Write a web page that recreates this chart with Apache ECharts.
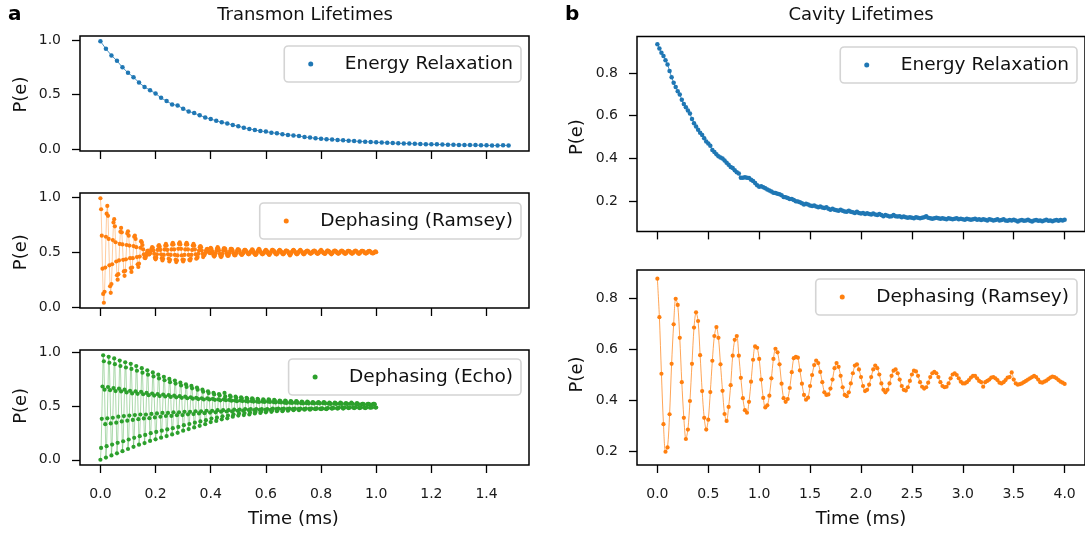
<!DOCTYPE html>
<html><head><meta charset="utf-8">
<script src="https://cdn.jsdelivr.net/npm/echarts@6.0.0/dist/echarts.min.js"></script>
<style>html,body{margin:0;padding:0;background:#fff}#c{width:1085px;height:533px}</style>
</head><body><div id="c"></div><script>
// ---------- data ----------
const transmonT1Dt = 0.02;
const transmonT1 = [0.99,0.92,0.86,0.81,0.75,0.70,0.66,0.61,0.57,0.54,0.51,0.47,0.44,0.41,0.40,0.37,0.345,0.33,0.31,0.29,0.275,0.26,0.245,0.235,0.22,0.21,0.195,0.185,0.175,0.165,0.16,0.15,0.145,0.135,0.13,0.125,0.12,0.11,0.105,0.10,0.095,0.09,0.088,0.083,0.08,0.077,0.073,0.07,0.067,0.065,0.062,0.06,0.057,0.055,0.053,0.051,0.05,0.048,0.046,0.045,0.044,0.043,0.041,0.04,0.039,0.038,0.037,0.036,0.036,0.035,0.034,0.033,0.032,0.034,0.033];

const transmonRamseyDt = 0.0025;
const transmonRamsey = [
0.99,0.89,0.65,0.35,0.12,0.04,0.14,0.36,0.64,0.85,
0.92,0.83,0.62,0.38,0.19,0.13,0.21,0.39,0.61,0.77,
0.80,0.735,0.59,0.415,0.29,0.25,0.30,0.425,0.575,0.685,
0.72,0.68,0.57,0.43,0.325,0.285,0.33,0.435,0.565,0.67,
0.69,0.65,0.56,0.445,0.355,0.32,0.36,0.445,0.555,0.64,
0.65,0.62,0.545,0.455,0.39,0.365,0.395,0.46,0.54,0.60,
0.59,0.565,0.525,0.48,0.45,0.445,0.46,0.49,0.51,0.515,
0.48,0.48,0.49,0.51,0.53,0.545,0.54,0.515,0.485,0.45,
0.435,0.45,0.48,0.52,0.555,0.565,0.55,0.52,0.48,0.445,
0.425,0.44,0.475,0.525,0.56,0.575,0.56,0.52,0.48,0.44,
0.415,0.43,0.475,0.525,0.57,0.585,0.57,0.525,0.475,0.43,
0.41,0.425,0.47,0.53,0.575,0.59,0.57,0.53,0.47,0.43,
0.415,0.43,0.475,0.525,0.57,0.585,0.57,0.525,0.475,0.43,
0.425,0.44,0.475,0.52,0.56,0.575,0.56,0.525,0.48,0.44,
0.445,0.455,0.485,0.515,0.545,0.555,0.545,0.515,0.485,0.455,
0.47,0.475,0.49,0.51,0.525,0.53,0.52,0.505,0.495,0.49,
0.54,0.53,0.51,0.49,0.47,0.46,0.47,0.49,0.51,0.53,
0.545,0.535,0.515,0.485,0.465,0.455,0.465,0.485,0.515,0.535,
0.535,0.53,0.51,0.49,0.47,0.465,0.47,0.49,0.51,0.53,
0.53,0.525,0.51,0.49,0.475,0.47,0.475,0.49,0.51,0.525,
0.525,0.52,0.51,0.49,0.48,0.475,0.48,0.49,0.51,0.52,
0.52,0.515,0.505,0.495,0.485,0.48,0.485,0.495,0.505,0.515,
0.525,0.52,0.505,0.49,0.48,0.475,0.48,0.495,0.51,0.52,
0.53,0.52,0.505,0.495,0.485,0.48,0.485,0.49,0.505,0.515,
0.52,0.515,0.505,0.49,0.48,0.475,0.485,0.495,0.51,0.52,
0.52,0.515,0.51,0.495,0.485,0.48,0.48,0.49,0.505,0.515,
0.52,0.515,0.505,0.495,0.485,0.48,0.485,0.495,0.505,0.515,
0.515,0.51,0.505,0.49,0.48,0.47,0.48,0.495,0.505,0.515,
0.52,0.515,0.505,0.495,0.485,0.48,0.485,0.495,0.505,0.515,
0.52,0.51,0.505,0.495,0.485,0.48,0.485,0.495,0.505,0.51,
0.515,0.51,0.505,0.495,0.49,0.485,0.49,0.495,0.505,0.51,
0.515,0.512,0.505,0.495,0.488,0.485,0.488,0.495,0.505,0.512,
0.52,0.51,0.505,0.495,0.49,0.485,0.485,0.495,0.505,0.515,
0.515,0.51,0.505,0.495,0.488,0.48,0.488,0.495,0.505,0.512,
0.515,0.512,0.505,0.495,0.49,0.485,0.49,0.495,0.505,0.51,
0.515,0.51,0.505,0.495,0.488,0.485,0.488,0.495,0.505,0.512,
0.512,0.51,0.505,0.495,0.49,0.485,0.49,0.495,0.505,0.51,
0.515,0.51,0.503,0.495,0.488,0.485,0.488,0.497,0.505,0.512,
0.512,0.51,0.505,0.495,0.49,0.487,0.49,0.495,0.505,0.51,
0.512,0.508,0.503,0.495,0.49,0.488,0.49,0.495,0.503,0.508,
0.50];

const transmonEchoDt = 0.0025;
const transmonEcho = [
0.0,0.11,0.38,0.68,0.97,0.914,0.65,0.33,
0.02,0.126,0.385,0.675,0.955,0.90,0.646,0.337,
0.04,0.141,0.39,0.665,0.94,0.887,0.637,0.344,
0.06,0.157,0.40,0.66,0.92,0.87,0.634,0.356,
0.08,0.172,0.405,0.65,0.905,0.856,0.625,0.363,
0.10,0.188,0.41,0.64,0.89,0.843,0.616,0.37,
0.12,0.204,0.415,0.635,0.87,0.826,0.612,0.377,
0.14,0.219,0.42,0.63,0.85,0.808,0.608,0.384,
0.155,0.231,0.42,0.62,0.83,0.79,0.599,0.386,
0.175,0.247,0.425,0.615,0.81,0.773,0.596,0.393,
0.19,0.258,0.43,0.61,0.79,0.755,0.591,0.399,
0.205,0.27,0.435,0.605,0.77,0.738,0.587,0.406,
0.22,0.282,0.435,0.60,0.75,0.72,0.583,0.407,
0.235,0.293,0.44,0.595,0.735,0.707,0.579,0.414,
0.25,0.305,0.44,0.59,0.715,0.689,0.575,0.415,
0.27,0.321,0.445,0.585,0.70,0.676,0.571,0.422,
0.285,0.332,0.445,0.58,0.685,0.663,0.567,0.424,
0.30,0.344,0.45,0.575,0.67,0.65,0.563,0.43,
0.315,0.356,0.45,0.57,0.65,0.632,0.559,0.432,
0.33,0.367,0.455,0.57,0.635,0.619,0.56,0.438,
0.35,0.383,0.455,0.565,0.62,0.606,0.556,0.44,
0.36,0.391,0.46,0.56,0.61,0.597,0.552,0.446,
0.375,0.403,0.46,0.56,0.62,0.588,0.553,0.448,
0.385,0.41,0.46,0.555,0.595,0.584,0.548,0.449,
0.40,0.422,0.465,0.55,0.585,0.575,0.544,0.455,
0.41,0.43,0.465,0.55,0.58,0.57,0.545,0.456,
0.415,0.434,0.47,0.545,0.575,0.566,0.54,0.462,
0.42,0.438,0.47,0.545,0.57,0.562,0.54,0.462,
0.43,0.445,0.47,0.54,0.565,0.557,0.536,0.463,
0.435,0.449,0.47,0.54,0.56,0.553,0.536,0.464,
0.44,0.453,0.47,0.54,0.56,0.553,0.536,0.464,
0.445,0.457,0.475,0.535,0.555,0.548,0.532,0.47,
0.45,0.461,0.475,0.535,0.55,0.544,0.532,0.47,
0.45,0.461,0.475,0.53,0.55,0.544,0.527,0.47,
0.455,0.465,0.475,0.53,0.545,0.54,0.527,0.47,
0.46,0.469,0.475,0.53,0.545,0.54,0.528,0.471,
0.46,0.469,0.475,0.525,0.54,0.535,0.523,0.471,
0.465,0.473,0.475,0.525,0.54,0.535,0.523,0.472,
0.465,0.473,0.475,0.525,0.535,0.531,0.523,0.472,
0.47,0.477,0.475,0.525,0.535,0.531,0.523,0.472,
0.47,0.477,0.475,0.525,0.535,0.531,0.523,0.472,
0.47,0.477,0.48,0.52,0.53,0.526,0.518,0.477,
0.475,0.48,0.48,0.52,0.53,0.526,0.518,0.478,
0.475,0.48,0.485,0.52,0.53,0.526,0.518,0.483,
0.475,0.48,0.485,0.52,0.525,0.522,0.518,0.483,
0.48,0.484,0.485,0.52,0.53,0.522,0.519,0.483,
0.48,0.484,0.485,0.515,0.525,0.522,0.514,0.483,
0.48,0.484,0.485,0.515,0.52,0.518,0.514,0.483,
0.48,0.484,0.485,0.515,0.52,0.518,0.514,0.483,
0.485,0.488,0.485,0.515,0.52,0.518,0.514,0.484,
0.485];

const cavityT1Dt = 0.02;
const cavityT1 = [
0.935,0.915,0.895,0.88,0.86,0.84,0.81,0.78,0.755,0.735,
0.715,0.70,0.675,0.655,0.64,0.625,0.61,0.585,0.565,0.55,
0.535,0.52,0.51,0.495,0.48,0.47,0.46,0.44,0.43,0.42,
0.41,0.405,0.40,0.39,0.38,0.37,0.36,0.355,0.345,0.335,
0.33,0.31,0.31,0.312,0.31,0.308,0.30,0.295,0.285,0.275,
0.268,0.27,0.265,0.26,0.255,0.25,0.245,0.24,0.238,0.235,
0.232,0.228,0.22,0.218,0.215,0.21,0.21,0.205,0.20,0.198,
0.195,0.19,0.185,0.188,0.185,0.18,0.178,0.18,0.175,0.172,
0.175,0.17,0.168,0.172,0.165,0.16,0.165,0.16,0.158,0.155,
0.16,0.155,0.152,0.15,0.155,0.15,0.148,0.145,0.15,0.145,
0.142,0.145,0.14,0.143,0.14,0.138,0.142,0.138,0.135,0.14,
0.135,0.13,0.135,0.132,0.128,0.13,0.135,0.13,0.128,0.13,
0.125,0.128,0.125,0.122,0.125,0.122,0.12,0.125,0.122,0.12,
0.122,0.125,0.13,0.122,0.12,0.118,0.12,0.122,0.12,0.118,
0.12,0.118,0.115,0.12,0.118,0.115,0.118,0.12,0.115,0.118,
0.115,0.113,0.118,0.115,0.113,0.115,0.118,0.113,0.115,0.112,
0.115,0.113,0.11,0.115,0.113,0.11,0.112,0.115,0.11,0.112,
0.115,0.11,0.108,0.112,0.11,0.113,0.11,0.105,0.11,0.112,
0.108,0.11,0.113,0.108,0.105,0.11,0.112,0.108,0.11,0.106,
0.11,0.113,0.108,0.11,0.106,0.11,0.112,0.108,0.112,0.11,0.113];

const cavityRamseyDt = 0.02;
const cavityRamsey = [
0.876,0.725,0.503,0.305,0.197,0.214,0.344,0.542,0.697,0.797,
0.773,0.644,0.47,0.33,0.247,0.284,0.396,0.542,0.684,0.744,
0.71,0.576,0.435,0.33,0.284,0.323,0.431,0.554,0.651,0.686,
0.644,0.54,0.436,0.345,0.318,0.373,0.458,0.574,0.636,0.651,
0.574,0.487,0.407,0.36,0.35,0.393,0.472,0.558,0.61,0.605,
0.561,0.48,0.408,0.371,0.379,0.417,0.485,0.561,0.601,0.587,
0.54,0.464,0.407,0.393,0.404,0.447,0.509,0.564,0.569,0.566,
0.516,0.464,0.42,0.401,0.409,0.455,0.498,0.537,
0.555,0.545,0.51,0.47,0.43,0.42,0.422,0.445,0.48,0.525,0.545,0.53,
0.495,0.45,0.42,0.415,0.43,0.465,0.505,0.535,0.54,0.52,
0.49,0.455,0.435,0.44,0.46,0.49,0.52,0.535,0.525,0.5,
0.465,0.44,0.43,0.44,0.465,0.495,0.515,0.52,0.505,0.48,
0.455,0.44,0.437,0.45,0.475,0.5,0.515,0.512,0.495,0.47,
0.452,0.445,0.45,0.468,0.49,0.505,0.51,0.505,0.49,0.47,
0.455,0.45,0.452,0.465,0.485,0.5,0.505,0.498,0.485,0.472,
0.465,0.465,0.47,0.478,0.488,0.495,0.495,0.485,0.475,0.47,
0.452,0.47,0.475,0.48,0.488,0.49,0.485,0.478,0.468,0.465,
0.47,0.478,0.488,0.49,0.508,0.48,0.465,0.46,0.462,0.465,
0.47,0.475,0.48,0.485,0.49,0.495,0.49,0.48,0.47,0.468,
0.472,0.476,0.482,0.488,0.492,0.49,0.485,0.478,0.472,0.468,0.463];

// tick labels (first, last, step)
const leftXTicks = [0, 1.4, 0.2];
const rightXTicks = [0, 4.0, 0.5];
const leftYTicks = [0, 1.0, 0.5];
const rightYTicks = [0.2, 0.8, 0.2];

// ---------- chart ----------
const FONT = 'DejaVu Sans';
const BLUE = '#1f77b4', ORANGE = '#ff7f0e', GREEN = '#2ca02c';
const pairs = (vals, dt) => vals.map((v, i) => [Math.round(i * dt * 10000) / 10000, v]);
const fmt = v => Number(v).toFixed(1);

// panel boxes and their visible data ranges
const panels = [
  {box: {left: 80, top: 36, width: 449, height: 115}, xr: [-0.074, 1.554], yr: [-0.018, 1.038], xt: leftXTicks, yt: leftYTicks, xLab: false, nameGap: 50},
  {box: {left: 80, top: 193, width: 449, height: 115}, xr: [-0.074, 1.554], yr: [-0.0075, 1.0375], xt: leftXTicks, yt: leftYTicks, xLab: false, nameGap: 50},
  {box: {left: 80, top: 350, width: 449, height: 115}, xr: [-0.074, 1.554], yr: [-0.0485, 1.0185], xt: leftXTicks, yt: leftYTicks, xLab: true, nameGap: 50},
  {box: {left: 637, top: 36.4, width: 448, height: 195}, xr: [-0.2, 4.2], yr: [0.0585, 0.9715], xt: rightXTicks, yt: rightYTicks, xLab: false, nameGap: 51},
  {box: {left: 637, top: 270, width: 448, height: 195}, xr: [-0.2, 4.2], yr: [0.145, 0.91], xt: rightXTicks, yt: rightYTicks, xLab: true, nameGap: 51}
];

const grids = [], xAxes = [], yAxes = [];
const tickStyle = {show: true, inside: false, length: 8, lineStyle: {color: '#000', width: 1.3}};
const labelStyle = {color: '#1a1a1a', fontFamily: FONT, fontSize: 14, formatter: fmt};
const nameStyle = {fontFamily: FONT, fontSize: 18, color: '#111'};
const noLine = {show: false, onZero: false};
// data grids (the framed boxes)
panels.forEach((p, i) => {
  grids.push(Object.assign({show: true, borderColor: '#000', borderWidth: 1.5, backgroundColor: 'transparent'}, p.box));
  xAxes.push({type: 'value', gridIndex: i, min: p.xr[0], max: p.xr[1], show: true,
    axisLine: noLine, axisTick: {show: false}, axisLabel: {show: false}, splitLine: {show: false}});
  yAxes.push({type: 'value', gridIndex: i, min: p.yr[0], max: p.yr[1], show: true,
    axisLine: noLine, axisTick: {show: false}, axisLabel: {show: false}, splitLine: {show: false}});
});
// tick grids: same scale, spanning exactly the tick range, axes shifted onto the frame
panels.forEach((p, i) => {
  const b = p.box;
  const sx = b.width / (p.xr[1] - p.xr[0]);
  const sy = b.height / (p.yr[1] - p.yr[0]);
  const gl = b.left + (p.xt[0] - p.xr[0]) * sx;
  const gw = (p.xt[1] - p.xt[0]) * sx;
  const gt = b.top + (p.yr[1] - p.yt[1]) * sy;
  const gh = (p.yt[1] - p.yt[0]) * sy;
  const gi = panels.length + i;
  grids.push({show: false, left: gl, top: gt, width: gw, height: gh});
  xAxes.push({type: 'value', gridIndex: gi, position: 'bottom', min: p.xt[0], max: p.xt[1], interval: p.xt[2],
    offset: (b.top + b.height) - (gt + gh),
    axisLine: noLine, splitLine: {show: false}, axisTick: tickStyle,
    axisLabel: Object.assign({show: p.xLab, margin: 22}, labelStyle),
    name: p.xLab ? 'Time (ms)' : '', nameLocation: 'middle', nameGap: 45, nameTextStyle: nameStyle});
  yAxes.push({type: 'value', gridIndex: gi, position: 'left', min: p.yt[0], max: p.yt[1], interval: p.yt[2],
    offset: gl - b.left,
    axisLine: noLine, splitLine: {show: false}, axisTick: tickStyle,
    axisLabel: Object.assign({show: true, margin: 19}, labelStyle),
    name: 'P(e)', nameLocation: 'middle', nameGap: p.nameGap, nameRotate: 90, nameTextStyle: nameStyle});
});

function fitLine(name, idx, data, color, width, opacity, smooth) {
  return {type: 'line', name, xAxisIndex: idx, yAxisIndex: idx, data, showSymbol: false, symbol: 'none', smooth: smooth || false,
    lineStyle: {color, width, opacity}, silent: true, z: 2, animation: false};
}
function dots(name, idx, data, color, size) {
  return {type: 'scatter', name, xAxisIndex: idx, yAxisIndex: idx, data, symbol: 'circle', symbolSize: size,
    itemStyle: {color, opacity: 1}, z: 3, animation: false, silent: true};
}
function legend(name, right, top) {
  return {data: [name], right, top, orient: 'horizontal', icon: 'circle', itemWidth: 36, itemHeight: 5,
    padding: [7, 8, 7, 24], borderColor: '#d4d4d4', borderWidth: 1.6, borderRadius: 4, backgroundColor: '#fff',
    selectedMode: false,
    textStyle: {fontFamily: FONT, fontSize: 18.5, color: '#111', lineHeight: 22, padding: [0, 0, 0, 11]}};
}

const dT1 = pairs(transmonT1, transmonT1Dt);
const dTR = pairs(transmonRamsey, transmonRamseyDt);
const dTE = pairs(transmonEcho, transmonEchoDt);
const dCT1 = pairs(cavityT1, cavityT1Dt);
const dCR = pairs(cavityRamsey, cavityRamseyDt);

const option = {
  animation: false,
  backgroundColor: '#fff',
  textStyle: {fontFamily: FONT},
  grid: grids,
  xAxis: xAxes,
  yAxis: yAxes,
  legend: [
    legend('Energy Relaxation', 564, 46),
    legend('Dephasing (Ramsey)', 564, 203),
    legend('Dephasing (Echo)', 564, 359),
    legend('Energy Relaxation', 8, 47),
    legend('Dephasing (Ramsey)', 8, 279)
  ],
  graphic: [
    {type: 'text', left: 8, top: 5, style: {text: 'a', font: 'bold 20px "DejaVu Sans"', fill: '#000'}},
    {type: 'text', left: 565, top: 5, style: {text: 'b', font: 'bold 20px "DejaVu Sans"', fill: '#000'}},
    {type: 'text', x: 305, y: 6, style: {text: 'Transmon Lifetimes', font: '18px "DejaVu Sans"', fill: '#111', align: 'center', verticalAlign: 'top'}},
    {type: 'text', x: 861, y: 6, style: {text: 'Cavity Lifetimes', font: '18px "DejaVu Sans"', fill: '#111', align: 'center', verticalAlign: 'top'}}
  ],
  series: [
    fitLine('fitT1', 0, dT1, BLUE, 0.8, 1),
    dots('Energy Relaxation', 0, dT1, BLUE, 4.5),
    fitLine('fitTR', 1, dTR, ORANGE, 1, 0.4),
    dots('Dephasing (Ramsey)', 1, dTR, ORANGE, 4.2),
    fitLine('fitTE', 2, dTE, GREEN, 1, 0.4),
    dots('Dephasing (Echo)', 2, dTE, GREEN, 4.2),
    fitLine('fitCT1', 3, dCT1, BLUE, 0.8, 1),
    dots('Energy Relaxation', 3, dCT1, BLUE, 4.5),
    fitLine('fitCR', 4, dCR, ORANGE, 1, 0.7, 0.3),
    dots('Dephasing (Ramsey)', 4, dCR, ORANGE, 4.2)
  ]
};
const chart = echarts.init(document.getElementById('c'), null, {renderer: 'canvas', width: 1085, height: 533});
chart.setOption(option);
</script></body></html>
